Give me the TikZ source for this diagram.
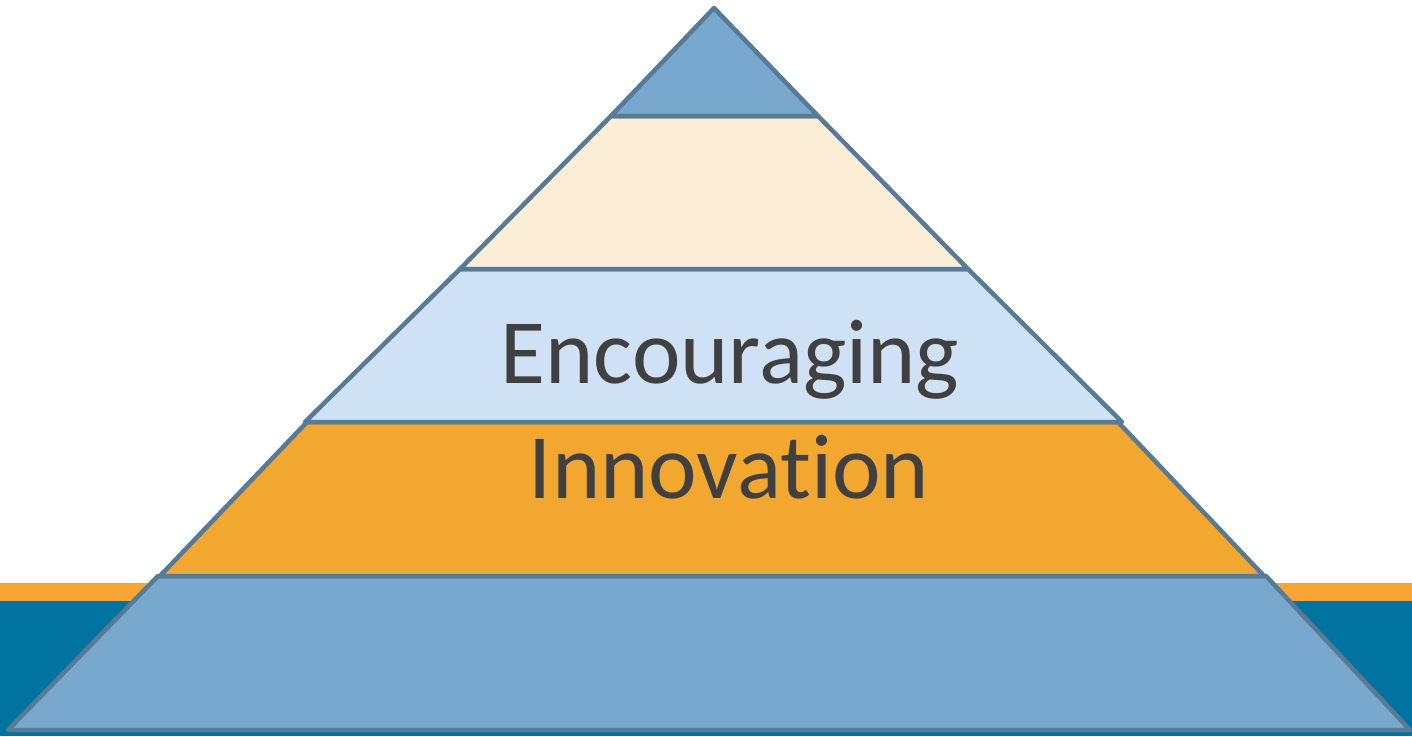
\documentclass[tikz,border=0pt]{standalone}
\usepackage{fontspec}
\setmainfont[Ligatures=NoCommon]{Carlito}
\definecolor{edge}{HTML}{577A97}
\definecolor{layerblue}{HTML}{79A8CF}
\definecolor{beige}{HTML}{FCEED6}
\definecolor{paleblue}{HTML}{CFE2F5}
\definecolor{layerorange}{HTML}{F2A731}
\definecolor{stripe}{HTML}{F9A533}
\definecolor{teal}{HTML}{0073A0}
\definecolor{txt}{HTML}{404040}
\begin{document}
\begin{tikzpicture}[x=1pt,y=-1pt,
  layer/.style={draw=edge,line width=4.5pt,line join=round},
  label/.style={anchor=base,text=txt,inner sep=0pt,font=\fontsize{92}{110}\selectfont}]
\useasboundingbox (0,0) rectangle (1412,736);
\fill[white] (0,0) rectangle (1412,736);
\fill[stripe] (0,583) rectangle (1412,601);
\fill[teal] (0,601) rectangle (1412,736);
% layers
\filldraw[layer,fill=layerblue] (8,730) -- (1410,730) -- (1266,576) -- (158,576) -- cycle;
\filldraw[layer,fill=layerorange] (160,576) -- (1264,576) -- (1118,422) -- (307,422) -- cycle;
\filldraw[layer,fill=paleblue] (305,422) -- (1122,422) -- (968,269) -- (460,269) -- cycle;
\filldraw[layer,fill=beige] (460,269) -- (968,269) -- (818,116) -- (611,116) -- cycle;
\filldraw[layer,fill=layerblue] (611,116) -- (818,116) -- (714,8) -- cycle;
\node[label] (enc) at (730,383) {Encouraging};
\node[label] (inn) at (729,498) {Innovation};
\end{tikzpicture}
\end{document}
